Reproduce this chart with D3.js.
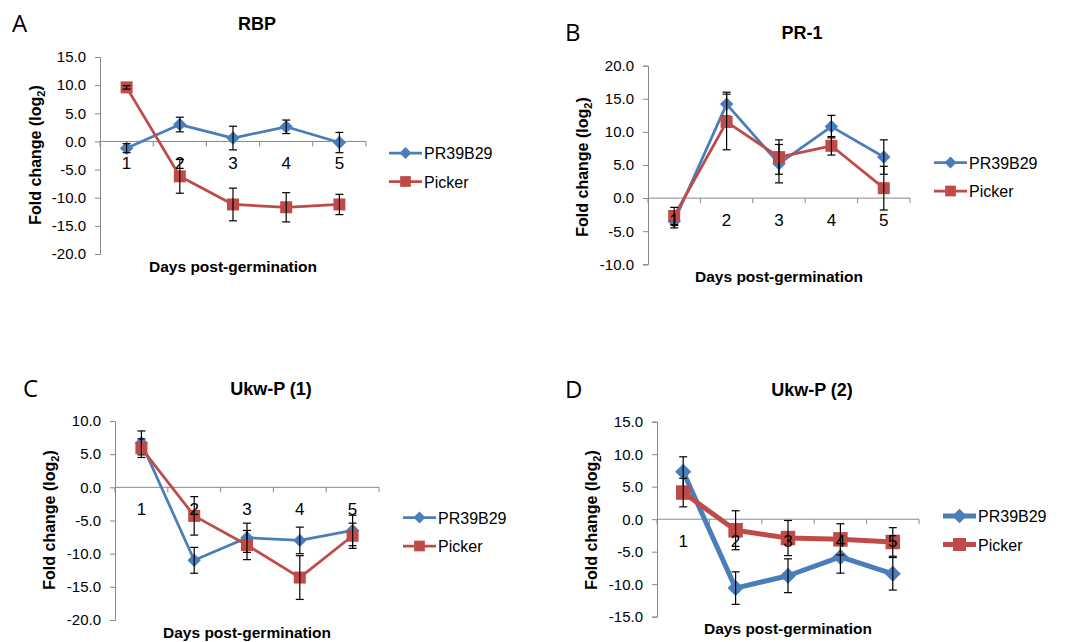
<!DOCTYPE html>
<html>
<head>
<meta charset="utf-8">
<script src="https://cdn.jsdelivr.net/npm/d3@7"></script>
<style>
  body { margin: 0; background: #fff; }
  text { font-family: "Liberation Sans", Arial, sans-serif; }
</style>
</head>
<body>
<svg id="chart" width="1083" height="642"></svg>
<script>
// categories and legend
var days = ["1", "2", "3", "4", "5"]
var seriesNames = ["PR39B29", "Picker"]

// A: RBP
var rbpPR = [-1.2, 3.0, 0.6, 2.6, -0.2]
var rbpPRErr = [0.8, 1.3, 2.1, 1.2, 1.8]
var rbpPicker = [9.6, -6.2, -11.2, -11.7, -11.2]
var rbpPickerErr = [0.3, 3.0, 2.9, 2.6, 1.8]

// B: PR-1
var pr1PR = [-3.5, 14.2, 5.2, 10.8, 6.2]
var pr1PRErr = [1.0, 1.8, 2.9, 1.7, 2.6]
var pr1Picker = [-2.7, 11.5, 6.2, 7.9, 1.5]
var pr1PickerErr = [1.3, 4.2, 2.6, 1.4, 3.3]

// C: Ukw-P (1)
var ukw1PR = [6.7, -11.0, -7.6, -8.0, -6.5]
var ukw1PRErr = [1.8, 1.95, 2.2, 2.0, 2.3]
var ukw1Picker = [5.9, -4.3, -8.7, -13.6, -7.3]
var ukw1PickerErr = [1.4, 2.9, 2.2, 3.3, 1.9]

// D: Ukw-P (2)
var ukw2PR = [7.3, -10.6, -8.7, -5.8, -8.4]
var ukw2PRErr = [2.3, 2.5, 2.6, 2.5, 2.5]
var ukw2Picker = [4.1, -1.7, -2.9, -3.1, -3.5]
var ukw2PickerErr = [2.2, 3.0, 2.7, 2.4, 2.2]

var blue = "#4a7ebb"
var red = "#be4b48"

var svg = d3.select("#chart")

function drawPanel(p) {
    var g = svg.append("g")

    var x = d3.scaleBand().domain(days).range([p.x0, p.x1])
    var y = d3.scaleLinear().domain(p.yDomain).range([p.y1, p.y0])
    var yTicks = d3.range(p.yDomain[0], p.yDomain[1] + 0.01, 5)

    // panel letter and title
    g.append("text")
        .attr("x", p.letterX).attr("y", p.titleY + 8)
        .style("font-family", "'Open Sans', sans-serif")
        .style("font-size", "24px")
        .text(p.letter)
    g.append("text")
        .attr("x", p.titleX).attr("y", p.titleY + 6)
        .attr("text-anchor", "middle")
        .style("font-size", "18px").style("font-weight", "bold")
        .text(p.title)

    // y axis
    var yAxis = d3.axisLeft(y).tickValues(yTicks).tickSize(5).tickPadding(9)
        .tickFormat(function(d) { return d.toFixed(1) })
    var ya = g.append("g").attr("transform", "translate(" + p.x0 + ",0)").call(yAxis)
    ya.select(".domain").attr("stroke", "#888")
    ya.selectAll(".tick line").attr("stroke", "#888")
    ya.selectAll(".tick text").style("font-size", "15px").attr("fill", "#000")
        .style("font-family", "'Liberation Sans', Arial, sans-serif")

    // x axis at zero, ticks on band boundaries
    var y0 = y(0)
    g.append("line")
        .attr("x1", p.x0).attr("x2", p.x1).attr("y1", y0).attr("y2", y0)
        .attr("stroke", "#888")
    var bounds = days.map(function(d) { return x(d) }).concat([p.x1])
    g.selectAll("line.xtick")
        .data(bounds)
        .join("line")
        .classed("xtick", true)
        .attr("x1", function(d) { return d }).attr("x2", function(d) { return d })
        .attr("y1", y0).attr("y2", y0 + 5)
        .attr("stroke", "#888")

    // axis titles
    g.append("text")
        .attr("x", p.xTitleX).attr("y", p.xTitleY + 5)
        .attr("text-anchor", "middle")
        .style("font-size", "15.5px").style("font-weight", "bold")
        .text("Days post-germination")
    var yt = g.append("text")
        .attr("transform", "translate(" + (p.yTitleX + 5) + "," + p.yTitleY + ") rotate(-90)")
        .attr("text-anchor", "middle")
        .style("font-size", "16px").style("font-weight", "bold")
    yt.append("tspan").text("Fold change (log")
    yt.append("tspan").attr("dy", 4).style("font-size", "11px").text("2")
    yt.append("tspan").attr("dy", -4).text(")")

    var cx = function(i) { return x(days[i]) + x.bandwidth() / 2 }
    var series = [
        { vals: p.pr, err: p.prErr, color: blue, rot: 45, size: p.diamondSize },
        { vals: p.picker, err: p.pickerErr, color: red, rot: 0, size: p.squareSize }
    ]

    series.forEach(function(s) {
        var line = d3.line()
            .x(function(d, i) { return cx(i) })
            .y(function(d) { return y(d) })
        g.append("path")
            .datum(s.vals)
            .attr("d", line)
            .attr("fill", "none")
            .attr("stroke", s.color)
            .attr("stroke-width", p.lineW)
            .attr("stroke-linejoin", "round")

        // diamonds are rotated squares
        g.selectAll(null)
            .data(s.vals)
            .join("path")
            .attr("d", d3.symbol().type(d3.symbolSquare).size(s.size))
            .attr("transform", function(d, i) {
                return "translate(" + cx(i) + "," + y(d) + ") rotate(" + s.rot + ")"
            })
            .attr("fill", s.color)

        // error bars
        var eb = g.selectAll(null)
            .data(s.vals)
            .join("g")
        eb.append("line")
            .attr("x1", function(d, i) { return cx(i) }).attr("x2", function(d, i) { return cx(i) })
            .attr("y1", function(d, i) { return y(d + s.err[i]) })
            .attr("y2", function(d, i) { return y(d - s.err[i]) })
            .attr("stroke", "#000").attr("stroke-width", 1.2)
        ;[1, -1].forEach(function(sign) {
            eb.append("line")
                .attr("x1", function(d, i) { return cx(i) - 4 }).attr("x2", function(d, i) { return cx(i) + 4 })
                .attr("y1", function(d, i) { return y(d + sign * s.err[i]) })
                .attr("y2", function(d, i) { return y(d + sign * s.err[i]) })
                .attr("stroke", "#000").attr("stroke-width", 1.2)
        })
    })

    // category labels sit below the zero line, over the marks
    g.selectAll("text.cat")
        .data(days)
        .join("text")
        .classed("cat", true)
        .attr("x", function(d) { return x(d) + x.bandwidth() / 2 })
        .attr("y", y0 + 28)
        .attr("text-anchor", "middle")
        .style("font-size", "17px")
        .text(function(d) { return d })

    // legend
    var lg = g.append("g")
    seriesNames.forEach(function(name, i) {
        var s = series[i]
        var ly = p.legY + i * 28.5
        lg.append("line")
            .attr("x1", p.legX).attr("x2", p.legX + 33)
            .attr("y1", ly).attr("y2", ly)
            .attr("stroke", s.color).attr("stroke-width", p.legLineW)
        lg.append("path")
            .attr("d", d3.symbol().type(d3.symbolSquare).size(s.size * 0.8))
            .attr("transform", "translate(" + (p.legX + 16.5) + "," + ly + ") rotate(" + s.rot + ")")
            .attr("fill", s.color)
        lg.append("text")
            .attr("x", p.legX + 35).attr("y", ly + 6)
            .style("font-size", "16px")
            .text(name)
    })
}

drawPanel({
    letter: "A", letterX: 12, title: "RBP", titleX: 257, titleY: 24,
    x0: 100, x1: 366, y0: 57, y1: 254, yDomain: [-20, 15],
    pr: rbpPR, prErr: rbpPRErr, picker: rbpPicker, pickerErr: rbpPickerErr,
    xTitleX: 233, xTitleY: 267, yTitleX: 36, yTitleY: 155,
    legX: 389, legY: 153, lineW: 2.75, legLineW: 2.75, diamondSize: 90, squareSize: 144
})
drawPanel({
    letter: "B", letterX: 565, title: "PR-1", titleX: 802, titleY: 33,
    x0: 648, x1: 910, y0: 65.7, y1: 264.3, yDomain: [-10, 20],
    pr: pr1PR, prErr: pr1PRErr, picker: pr1Picker, pickerErr: pr1PickerErr,
    xTitleX: 779, xTitleY: 277, yTitleX: 583, yTitleY: 167,
    legX: 934, legY: 162.5, lineW: 2.75, legLineW: 2.75, diamondSize: 90, squareSize: 144
})
drawPanel({
    letter: "C", letterX: 23, title: "Ukw-P (1)", titleX: 271, titleY: 389,
    x0: 115, x1: 379, y0: 421, y1: 620, yDomain: [-20, 10],
    pr: ukw1PR, prErr: ukw1PRErr, picker: ukw1Picker, pickerErr: ukw1PickerErr,
    xTitleX: 247, xTitleY: 633, yTitleX: 50, yTitleY: 520,
    legX: 403, legY: 517.5, lineW: 2.75, legLineW: 2.75, diamondSize: 90, squareSize: 144
})
drawPanel({
    letter: "D", letterX: 565, title: "Ukw-P (2)", titleX: 812, titleY: 390,
    x0: 657, x1: 919, y0: 421.7, y1: 616.7, yDomain: [-15, 15],
    pr: ukw2PR, prErr: ukw2PRErr, picker: ukw2Picker, pickerErr: ukw2PickerErr,
    xTitleX: 788, xTitleY: 629, yTitleX: 592, yTitleY: 520,
    legX: 943, legY: 516, lineW: 5, legLineW: 5, diamondSize: 130, squareSize: 210
})
</script>
</body>
</html>
